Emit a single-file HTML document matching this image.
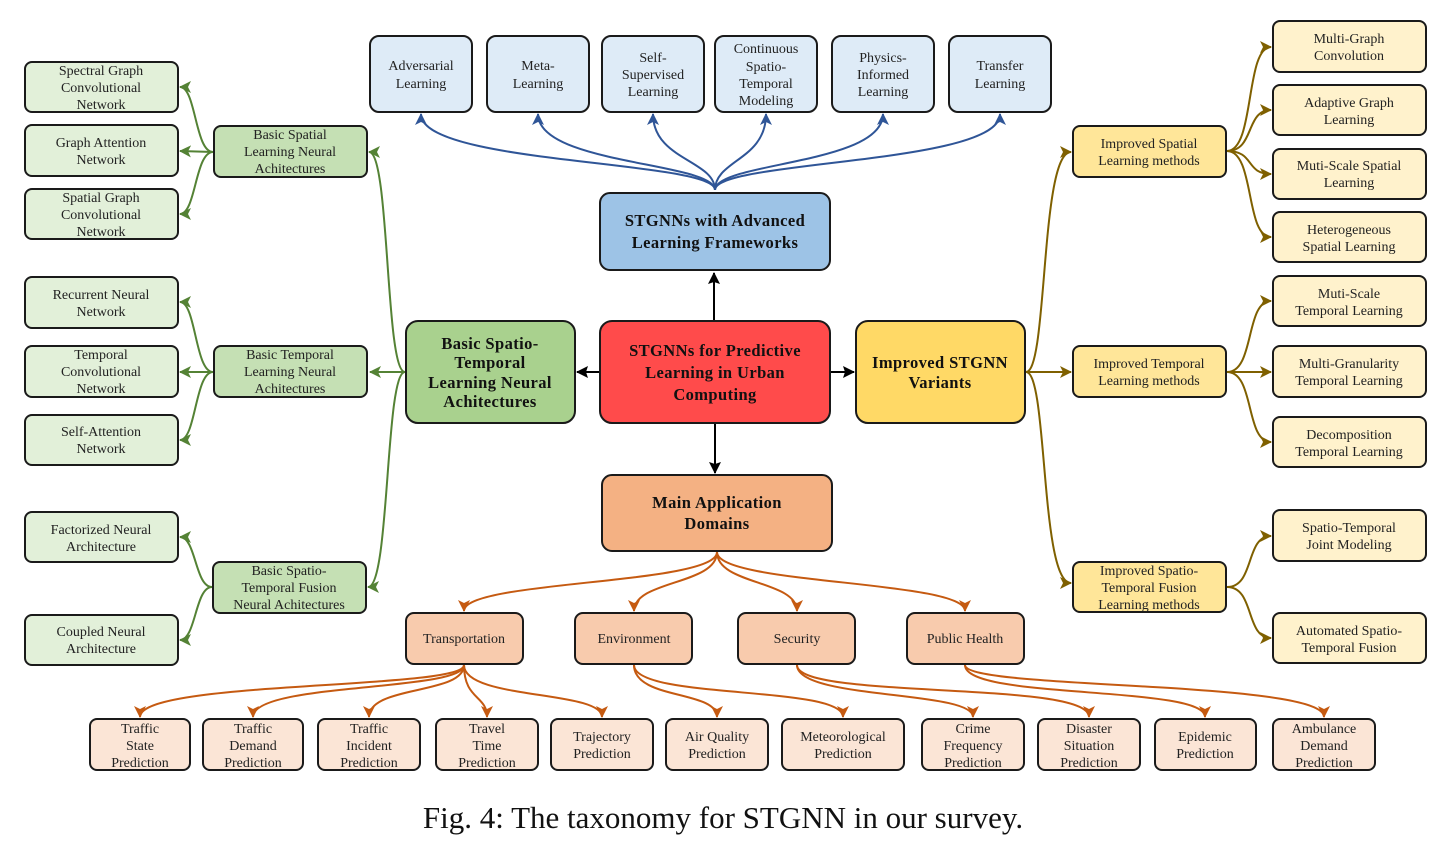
<!DOCTYPE html>
<html><head><meta charset="utf-8"><style>
html,body{margin:0;padding:0;background:#fff;}
svg{display:block;}
text{font-family:"Liberation Serif",serif;font-size:14px;fill:#222;text-anchor:middle;}
.b{font-weight:bold;font-size:16.5px;fill:#111;letter-spacing:0.4px;}
rect{stroke:#1a1a1a;stroke-width:2;}
path{fill:none;stroke-width:2;}
.g{stroke:#548235;}.bl{stroke:#2f5597;}.o{stroke:#c55a11;}.y{stroke:#7f6000;}.k{stroke:#000;}
</style></head><body>
<svg width="1447" height="849" viewBox="0 0 1447 849" xmlns="http://www.w3.org/2000/svg">
<defs>
<marker id="mg" markerWidth="12" markerHeight="12" refX="11" refY="6" orient="auto" markerUnits="userSpaceOnUse"><path d="M0,0 L12,6 L0,12 L3,6 Z" style="fill:#548235;stroke:none"/></marker>
<marker id="mb" markerWidth="12" markerHeight="12" refX="11" refY="6" orient="auto" markerUnits="userSpaceOnUse"><path d="M0,0 L12,6 L0,12 L3,6 Z" style="fill:#2f5597;stroke:none"/></marker>
<marker id="mo" markerWidth="12" markerHeight="12" refX="11" refY="6" orient="auto" markerUnits="userSpaceOnUse"><path d="M0,0 L12,6 L0,12 L3,6 Z" style="fill:#c55a11;stroke:none"/></marker>
<marker id="my" markerWidth="12" markerHeight="12" refX="11" refY="6" orient="auto" markerUnits="userSpaceOnUse"><path d="M0,0 L12,6 L0,12 L3,6 Z" style="fill:#7f6000;stroke:none"/></marker>
<marker id="mk" markerWidth="12" markerHeight="12" refX="11" refY="6" orient="auto" markerUnits="userSpaceOnUse"><path d="M0,0 L12,6 L0,12 L2,6 Z" style="fill:#000;stroke:none"/></marker>
</defs>

<path class="k" d="M714,321 L714,273" marker-end="url(#mk)"/>
<path class="k" d="M600,372 L577,372" marker-end="url(#mk)"/>
<path class="k" d="M830,372 L854,372" marker-end="url(#mk)"/>
<path class="k" d="M715,423 L715,473" marker-end="url(#mk)"/>
<path class="bl" d="M715,190 C715,160 421,165 421,114" marker-end="url(#mb)"/>
<path class="bl" d="M715,190 C715,162 538,165 538,114" marker-end="url(#mb)"/>
<path class="bl" d="M715,190 C715,160 653,160 653,114" marker-end="url(#mb)"/>
<path class="bl" d="M715,190 C715,160 766,160 766,114" marker-end="url(#mb)"/>
<path class="bl" d="M715,190 C715,162 883,165 883,114" marker-end="url(#mb)"/>
<path class="bl" d="M715,190 C715,160 1000,165 1000,114" marker-end="url(#mb)"/>
<path class="g" d="M405,372 C385,372 390,152 369,152" marker-end="url(#mg)"/>
<path class="g" d="M405,372 L370,372" marker-end="url(#mg)"/>
<path class="g" d="M405,372 C385,372 390,587 368,587" marker-end="url(#mg)"/>
<path class="g" d="M213,152 C195,152 196,87 180,87" marker-end="url(#mg)"/>
<path class="g" d="M213,152 L180,151" marker-end="url(#mg)"/>
<path class="g" d="M213,152 C195,152 196,214 180,214" marker-end="url(#mg)"/>
<path class="g" d="M213,372 C195,372 196,302 180,302" marker-end="url(#mg)"/>
<path class="g" d="M213,372 L180,372" marker-end="url(#mg)"/>
<path class="g" d="M213,372 C195,372 196,440 180,440" marker-end="url(#mg)"/>
<path class="g" d="M212,587 C195,587 196,537 180,537" marker-end="url(#mg)"/>
<path class="g" d="M212,587 C195,587 196,640 180,640" marker-end="url(#mg)"/>
<path class="y" d="M1026,372 C1048,372 1040,152 1071,152" marker-end="url(#my)"/>
<path class="y" d="M1026,372 L1071,372" marker-end="url(#my)"/>
<path class="y" d="M1026,372 C1048,372 1040,583 1071,583" marker-end="url(#my)"/>
<path class="y" d="M1227,151 C1255,151 1245,47 1271,47" marker-end="url(#my)"/>
<path class="y" d="M1227,151 C1255,151 1245,110 1271,110" marker-end="url(#my)"/>
<path class="y" d="M1227,151 C1255,151 1245,174 1271,174" marker-end="url(#my)"/>
<path class="y" d="M1227,151 C1255,151 1245,237 1271,237" marker-end="url(#my)"/>
<path class="y" d="M1227,372 C1255,372 1245,301 1271,301" marker-end="url(#my)"/>
<path class="y" d="M1227,372 L1271,372" marker-end="url(#my)"/>
<path class="y" d="M1227,372 C1255,372 1245,442 1271,442" marker-end="url(#my)"/>
<path class="y" d="M1227,587 C1255,587 1245,536 1271,536" marker-end="url(#my)"/>
<path class="y" d="M1227,587 C1255,587 1245,638 1271,638" marker-end="url(#my)"/>
<path class="o" d="M717,552 C717,585 464,580 464,611" marker-end="url(#mo)"/>
<path class="o" d="M717,552 C717,585 634,580 634,611" marker-end="url(#mo)"/>
<path class="o" d="M717,552 C717,585 797,580 797,611" marker-end="url(#mo)"/>
<path class="o" d="M717,552 C717,585 965,580 965,611" marker-end="url(#mo)"/>
<path class="o" d="M464,665 C464,690 140,680 140,717" marker-end="url(#mo)"/>
<path class="o" d="M464,665 C464,692 253,682 253,717" marker-end="url(#mo)"/>
<path class="o" d="M464,665 C464,695 369,685 369,717" marker-end="url(#mo)"/>
<path class="o" d="M464,665 C464,700 487,695 487,717" marker-end="url(#mo)"/>
<path class="o" d="M464,665 C464,700 602,690 602,717" marker-end="url(#mo)"/>
<path class="o" d="M634,665 C634,700 717,690 717,717" marker-end="url(#mo)"/>
<path class="o" d="M634,665 C634,700 843,685 843,717" marker-end="url(#mo)"/>
<path class="o" d="M797,665 C797,700 973,690 973,717" marker-end="url(#mo)"/>
<path class="o" d="M797,665 C797,700 1089,680 1089,717" marker-end="url(#mo)"/>
<path class="o" d="M965,665 C965,700 1205,685 1205,717" marker-end="url(#mo)"/>
<path class="o" d="M965,665 C965,690 1324,680 1324,717" marker-end="url(#mo)"/>

<g fill="#e2f0d9">
<rect x="25" y="62" width="153" height="50" rx="7"/>
<rect x="25" y="125" width="153" height="51" rx="7"/>
<rect x="25" y="189" width="153" height="50" rx="7"/>
<rect x="25" y="277" width="153" height="51" rx="7"/>
<rect x="25" y="346" width="153" height="51" rx="7"/>
<rect x="25" y="415" width="153" height="50" rx="7"/>
<rect x="25" y="512" width="153" height="50" rx="7"/>
<rect x="25" y="615" width="153" height="50" rx="7"/>
</g>
<text x="101" y="75">Spectral  Graph</text><text x="101" y="92">Convolutional</text><text x="101" y="109">Network</text>
<text x="101" y="147">Graph Attention</text><text x="101" y="164">Network</text>
<text x="101" y="202">Spatial Graph</text><text x="101" y="219">Convolutional</text><text x="101" y="236">Network</text>
<text x="101" y="299">Recurrent Neural</text><text x="101" y="316">Network</text>
<text x="101" y="359">Temporal</text><text x="101" y="376">Convolutional</text><text x="101" y="393">Network</text>
<text x="101" y="436">Self-Attention</text><text x="101" y="453">Network</text>
<text x="101" y="534">Factorized Neural</text><text x="101" y="551">Architecture</text>
<text x="101" y="636">Coupled Neural</text><text x="101" y="653">Architecture</text>

<g fill="#c5e0b4">
<rect x="214" y="126" width="153" height="51" rx="7"/>
<rect x="214" y="346" width="153" height="51" rx="7"/>
<rect x="213" y="562" width="153" height="51" rx="7"/>
</g>
<text x="290" y="139">Basic Spatial</text><text x="290" y="156">Learning Neural</text><text x="290" y="173">Achitectures</text>
<text x="290" y="359">Basic Temporal</text><text x="290" y="376">Learning Neural</text><text x="290" y="393">Achitectures</text>
<text x="289" y="575">Basic Spatio-</text><text x="289" y="592">Temporal Fusion</text><text x="289" y="609">Neural Achitectures</text>

<rect x="406" y="321" width="169" height="102" rx="12" fill="#a9d18e"/>
<text class="b" x="490" y="349">Basic Spatio-</text><text class="b" x="490" y="368">Temporal</text><text class="b" x="490" y="388">Learning Neural</text><text class="b" x="490" y="407">Achitectures</text>
<rect x="600" y="321" width="230" height="102" rx="12" fill="#ff4b4b"/>
<text class="b" x="715" y="356">STGNNs for Predictive</text><text class="b" x="715" y="378">Learning in Urban</text><text class="b" x="715" y="400">Computing</text>
<rect x="856" y="321" width="169" height="102" rx="12" fill="#ffd966"/>
<text class="b" x="940" y="368">Improved STGNN</text><text class="b" x="940" y="388">Variants</text>
<rect x="600" y="193" width="230" height="77" rx="10" fill="#9dc3e6"/>
<text class="b" x="715" y="226">STGNNs with Advanced</text><text class="b" x="715" y="248">Learning Frameworks</text>
<rect x="602" y="475" width="230" height="76" rx="10" fill="#f4b183"/>
<text class="b" x="717" y="508">Main Application</text><text class="b" x="717" y="529">Domains</text>

<g fill="#deebf7">
<rect x="370" y="36" width="102" height="76" rx="9"/>
<rect x="487" y="36" width="102" height="76" rx="9"/>
<rect x="602" y="36" width="102" height="76" rx="9"/>
<rect x="715" y="36" width="102" height="76" rx="9"/>
<rect x="832" y="36" width="102" height="76" rx="9"/>
<rect x="949" y="36" width="102" height="76" rx="9"/>
</g>
<text x="421" y="70">Adversarial</text><text x="421" y="88">Learning</text>
<text x="538" y="70">Meta-</text><text x="538" y="88">Learning</text>
<text x="653" y="62">Self-</text><text x="653" y="79">Supervised</text><text x="653" y="96">Learning</text>
<text x="766" y="53">Continuous</text><text x="766" y="71">Spatio-</text><text x="766" y="88">Temporal</text><text x="766" y="105">Modeling</text>
<text x="883" y="62">Physics-</text><text x="883" y="79">Informed</text><text x="883" y="96">Learning</text>
<text x="1000" y="70">Transfer</text><text x="1000" y="88">Learning</text>

<g fill="#ffe699">
<rect x="1073" y="126" width="153" height="51" rx="7"/>
<rect x="1073" y="346" width="153" height="51" rx="7"/>
<rect x="1073" y="562" width="153" height="50" rx="7"/>
</g>
<text x="1149" y="148">Improved Spatial</text><text x="1149" y="165">Learning methods</text>
<text x="1149" y="368">Improved Temporal</text><text x="1149" y="385">Learning methods</text>
<text x="1149" y="575">Improved Spatio-</text><text x="1149" y="592">Temporal Fusion</text><text x="1149" y="609">Learning methods</text>
<g fill="#fff2cc">
<rect x="1273" y="21" width="153" height="51" rx="7"/>
<rect x="1273" y="85" width="153" height="50" rx="7"/>
<rect x="1273" y="149" width="153" height="50" rx="7"/>
<rect x="1273" y="212" width="153" height="50" rx="7"/>
<rect x="1273" y="276" width="153" height="50" rx="7"/>
<rect x="1273" y="346" width="153" height="51" rx="7"/>
<rect x="1273" y="417" width="153" height="50" rx="7"/>
<rect x="1273" y="510" width="153" height="51" rx="7"/>
<rect x="1273" y="613" width="153" height="50" rx="7"/>
</g>
<text x="1349" y="43">Multi-Graph</text><text x="1349" y="60">Convolution</text>
<text x="1349" y="107">Adaptive Graph</text><text x="1349" y="124">Learning</text>
<text x="1349" y="170">Muti-Scale Spatial</text><text x="1349" y="187">Learning</text>
<text x="1349" y="234">Heterogeneous</text><text x="1349" y="251">Spatial Learning</text>
<text x="1349" y="298">Muti-Scale</text><text x="1349" y="315">Temporal Learning</text>
<text x="1349" y="368">Multi-Granularity</text><text x="1349" y="385">Temporal Learning</text>
<text x="1349" y="439">Decomposition</text><text x="1349" y="456">Temporal Learning</text>
<text x="1349" y="532">Spatio-Temporal</text><text x="1349" y="549">Joint Modeling</text>
<text x="1349" y="635">Automated Spatio-</text><text x="1349" y="652">Temporal Fusion</text>

<g fill="#f8cbad">
<rect x="406" y="613" width="117" height="51" rx="8"/>
<rect x="575" y="613" width="117" height="51" rx="8"/>
<rect x="738" y="613" width="117" height="51" rx="8"/>
<rect x="907" y="613" width="117" height="51" rx="8"/>
</g>
<text x="464" y="643">Transportation</text>
<text x="634" y="643">Environment</text>
<text x="797" y="643">Security</text>
<text x="965" y="643">Public Health</text>

<g fill="#fbe5d6">
<rect x="90" y="719" width="100" height="51" rx="7"/>
<rect x="203" y="719" width="100" height="51" rx="7"/>
<rect x="318" y="719" width="102" height="51" rx="7"/>
<rect x="436" y="719" width="102" height="51" rx="7"/>
<rect x="551" y="719" width="102" height="51" rx="7"/>
<rect x="666" y="719" width="102" height="51" rx="7"/>
<rect x="782" y="719" width="122" height="51" rx="7"/>
<rect x="922" y="719" width="102" height="51" rx="7"/>
<rect x="1038" y="719" width="102" height="51" rx="7"/>
<rect x="1155" y="719" width="101" height="51" rx="7"/>
<rect x="1273" y="719" width="102" height="51" rx="7"/>
</g>
<text x="140" y="733">Traffic</text><text x="140" y="750">State</text><text x="140" y="767">Prediction</text>
<text x="253" y="733">Traffic</text><text x="253" y="750">Demand</text><text x="253" y="767">Prediction</text>
<text x="369" y="733">Traffic</text><text x="369" y="750">Incident</text><text x="369" y="767">Prediction</text>
<text x="487" y="733">Travel</text><text x="487" y="750">Time</text><text x="487" y="767">Prediction</text>
<text x="602" y="741">Trajectory</text><text x="602" y="758">Prediction</text>
<text x="717" y="741">Air Quality</text><text x="717" y="758">Prediction</text>
<text x="843" y="741">Meteorological</text><text x="843" y="758">Prediction</text>
<text x="973" y="733">Crime</text><text x="973" y="750">Frequency</text><text x="973" y="767">Prediction</text>
<text x="1089" y="733">Disaster</text><text x="1089" y="750">Situation</text><text x="1089" y="767">Prediction</text>
<text x="1205" y="741">Epidemic</text><text x="1205" y="758">Prediction</text>
<text x="1324" y="733">Ambulance</text><text x="1324" y="750">Demand</text><text x="1324" y="767">Prediction</text>

<text x="723" y="828" style="font-size:31px;fill:#111">Fig. 4: The taxonomy for STGNN in our survey.</text>
</svg>
</body></html>
